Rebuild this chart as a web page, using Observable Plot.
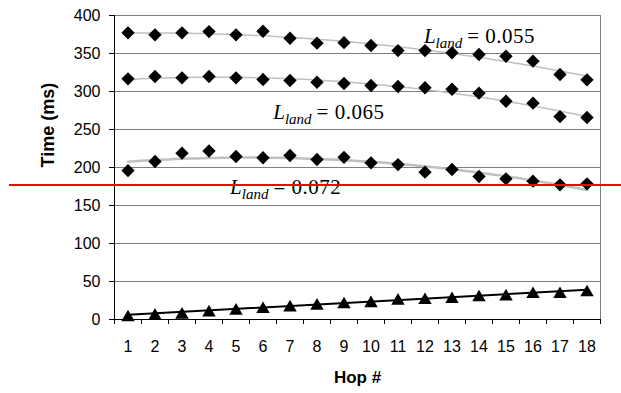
<!DOCTYPE html>
<html>
<head>
<meta charset="utf-8">
<script src="https://cdn.jsdelivr.net/npm/d3@7"></script>
<script src="https://cdn.jsdelivr.net/npm/@observablehq/plot@0.6"></script>
<style>
  body { margin: 0; background: #fff; }
</style>
</head>
<body>
<div id="chart"></div>
<script>
// Per-hop latency (ms) for three landing-loss rates and the baseline
const hops = d3.range(1, 19);
const time055 = [377.2, 374.6, 377.2, 378.9, 374.6, 379.3, 370.1, 363.6, 364.2, 360.5, 353.9, 353.9, 350.9, 348.7, 346.4, 339.9, 322.4, 315.4];
const time065 = [316.7, 319.7, 318.0, 319.7, 318.0, 315.8, 314.5, 312.2, 310.5, 307.9, 306.6, 304.9, 303.0, 297.8, 287.2, 284.6, 267.0, 265.8];
const time072 = [196.0, 207.9, 218.8, 221.7, 214.5, 212.8, 215.8, 210.5, 213.4, 206.2, 203.9, 193.8, 197.4, 188.2, 185.1, 182.0, 177.2, 178.5];
const timeBase = [5.3, 7.5, 8.8, 11.8, 14.0, 16.2, 18.4, 20.7, 22.4, 24.0, 27.2, 28.0, 29.3, 31.6, 32.9, 35.9, 35.9, 38.2];

// Curve annotations
const lambdaLabels = ["0.055", "0.065", "0.072"];
const labelHop = [11.96, 6.38, 4.78];
const labelTime = [373, 272.5, 173.8];

// Reference level
const thresholdTime = 177;

const yTicks = d3.range(0, 401, 50);
const hopBounds = d3.range(0.5, 19, 1);

// Least-squares polynomial of order 2: returns [c0, c1, c2]
function quadFit(xs, ys) {
  const S = k => d3.sum(xs, x => x ** k);
  const T = k => d3.sum(xs, (x, i) => x ** k * ys[i]);
  const A = [
    [S(0), S(1), S(2), T(0)],
    [S(1), S(2), S(3), T(1)],
    [S(2), S(3), S(4), T(2)]
  ];
  for (let c = 0; c < 3; c++) {
    for (let r = c + 1; r < 3; r++) {
      const f = A[r][c] / A[c][c];
      for (let j = c; j < 4; j++) A[r][j] -= f * A[c][j];
    }
  }
  const sol = [0, 0, 0];
  for (let r = 2; r >= 0; r--) {
    let s = A[r][3];
    for (let j = r + 1; j < 3; j++) s -= A[r][j] * sol[j];
    sol[r] = s / A[r][r];
  }
  return sol;
}

const series = [time055, time065, time072];
const diamonds = series.flatMap((s, k) => s.map((t, i) => ({hop: hops[i], time: t, k})));
const baseRows = timeBase.map((t, i) => ({hop: hops[i], time: t}));
const trends = series.flatMap((s, k) => {
  const c = quadFit(hops, s);
  return d3.range(1, 18.001, 0.25).map(h => ({hop: h, time: c[0] + c[1] * h + c[2] * h * h, k}));
});

const svg = Plot.plot({
  width: 621,
  height: 393,
  marginLeft: 114,
  marginRight: 21,
  marginTop: 15,
  marginBottom: 74,
  style: {fontFamily: "'Liberation Sans', Arial, sans-serif", fontSize: "16px", background: "#fff", color: "#000"},
  x: {domain: [0.5, 18.5], label: null},
  y: {domain: [0, 400], label: null},
  marks: [
    Plot.gridY(yTicks.filter(d => d > 0), {stroke: "#7f7f7f", strokeOpacity: 1, strokeWidth: 1}),
    Plot.ruleX([18.5], {stroke: "#7f7f7f", strokeWidth: 1}),
    Plot.line(trends.filter(d => d.k < 2), {x: "hop", y: "time", z: "k", stroke: "#c0c0c0", strokeWidth: 1.5}),
    Plot.line(trends.filter(d => d.k === 2), {x: "hop", y: "time", stroke: "#c0c0c0", strokeWidth: 2.5}),
    Plot.linearRegressionY(baseRows, {x: "hop", y: "time", stroke: "#000", strokeWidth: 2, ci: 0}),
    Plot.dot(diamonds, {x: "hop", y: "time", symbol: "diamond2", r: 6, fill: "#000", stroke: "none"}),
    Plot.dot(baseRows, {x: "hop", y: "time", symbol: "triangle", r: 5, fill: "#000", stroke: "none", dy: 2}),
    Plot.ruleY([0], {stroke: "#000", strokeWidth: 1}),
    Plot.ruleX([0.5], {stroke: "#000", strokeWidth: 1}),
    Plot.axisY({ticks: yTicks, tickSize: 5, tickPadding: 9, label: null, fontSize: 16}),
    Plot.axisX({ticks: hops, tickSize: 0, tickPadding: 21, label: null, fontSize: 16}),
    Plot.axisX({ticks: hopBounds, tickSize: 5, tickFormat: () => "", label: null}),
    Plot.text(lambdaLabels, {
      x: (d, i) => labelHop[i],
      y: (d, i) => labelTime[i],
      text: d => d,
      textAnchor: "start",
      fontFamily: "'Liberation Serif', 'Times New Roman', serif",
      fontSize: 21
    }),
    Plot.text(["Time (ms)"], {frameAnchor: "left", dx: -66, rotate: -90, fontWeight: "bold", fontSize: 18}),
    Plot.text(["Hop #"], {frameAnchor: "bottom", dy: 63, fontWeight: "bold", fontSize: 17}),
    Plot.ruleY([thresholdTime], {stroke: "#ff0000", strokeWidth: 2, insetLeft: -105, insetRight: -21})
  ]
});

// Write each annotation as  L_land = value  with an italic subscript
d3.select(svg).selectAll("text").each(function () {
  const t = this.textContent;
  if (!lambdaLabels.includes(t)) return;
  const sel = d3.select(this);
  sel.text(null);
  sel.append("tspan").attr("font-style", "italic").text("L");
  sel.append("tspan").attr("font-style", "italic").attr("font-size", 15).attr("dy", 5).text("land");
  sel.append("tspan").attr("dy", -5).attr("dx", 5).attr("letter-spacing", 0.5).text("= " + t);
});

document.getElementById("chart").appendChild(svg);
</script>
</body>
</html>
